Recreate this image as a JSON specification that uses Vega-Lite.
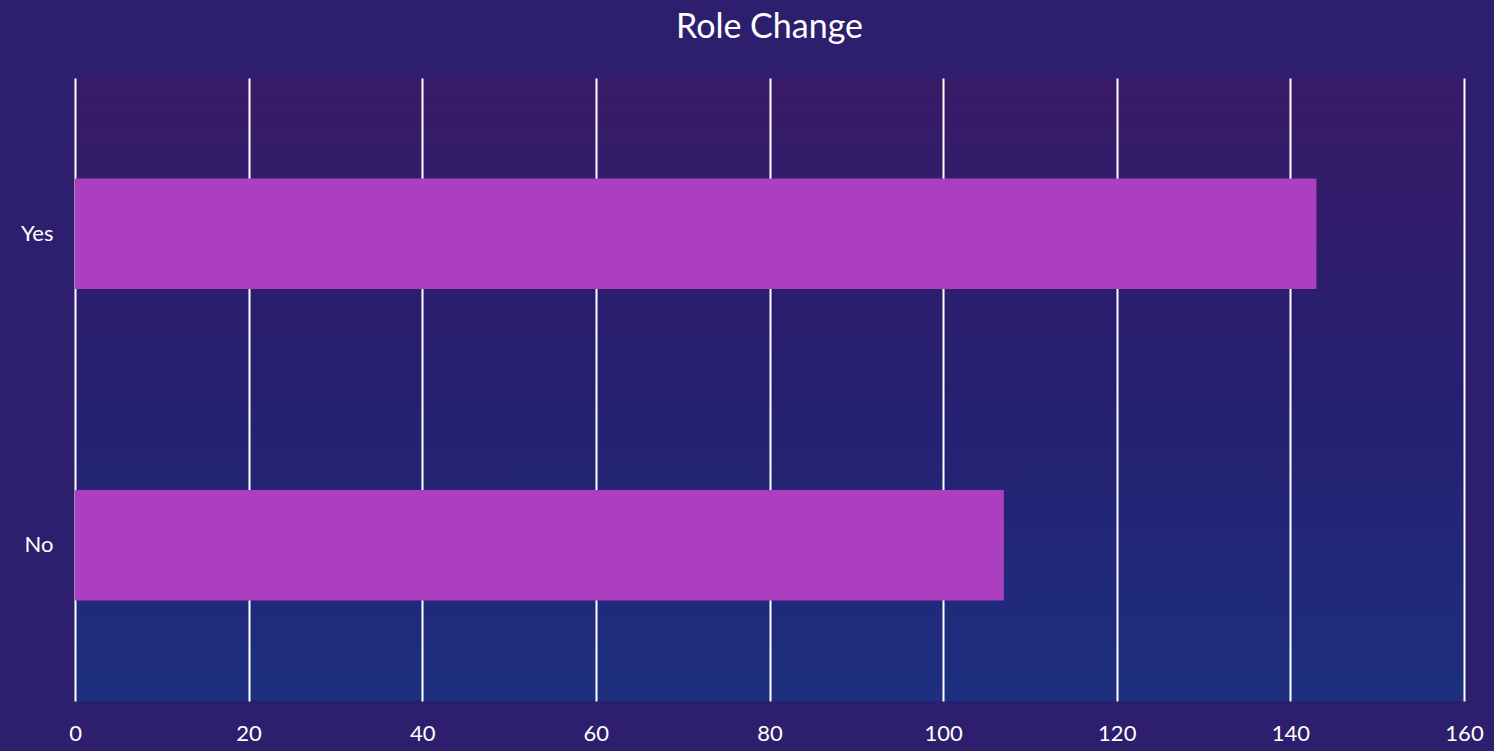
{
  "$schema": "https://vega.github.io/schema/vega-lite/v6.json",
  "autosize": "none",
  "width": 1389,
  "height": 623,
  "padding": {"left": 75, "top": 78, "right": 30, "bottom": 50},
  "background": "#2d1f6d",
  "title": {
    "text": "Role Change",
    "color": "#ffffff",
    "font": "Lato",
    "fontSize": 34,
    "fontWeight": "normal",
    "anchor": "middle",
    "frame": "group",
    "offset": 33
  },
  "config": {
    "view": {
      "stroke": null,
      "fill": {
        "gradient": "linear",
        "x1": 0, "y1": 0, "x2": 0, "y2": 1,
        "stops": [
          {"offset": 0, "color": "#391a67"},
          {"offset": 0.5, "color": "#261f70"},
          {"offset": 1, "color": "#1d2f7f"}
        ]
      }
    }
  },
  "data": {
    "values": [
      {"answer": "Yes", "count": 143},
      {"answer": "No", "count": 107}
    ]
  },
  "mark": {"type": "bar", "color": "#ac3fc0"},
  "encoding": {
    "y": {
      "field": "answer",
      "type": "nominal",
      "sort": ["Yes", "No"],
      "scale": {"paddingInner": 0.646, "paddingOuter": 0.323},
      "axis": {
        "title": null,
        "domain": false,
        "ticks": false,
        "grid": false,
        "labelColor": "#ffffff",
        "labelFont": "Lato",
        "labelFontSize": 22,
        "labelPadding": 22
      }
    },
    "x": {
      "field": "count",
      "type": "quantitative",
      "scale": {"domain": [0, 160], "nice": false},
      "axis": {
        "title": null,
        "values": [0, 20, 40, 60, 80, 100, 120, 140, 160],
        "domain": false,
        "ticks": false,
        "grid": true,
        "gridColor": "#ffffff",
        "gridWidth": 2,
        "gridOpacity": 1,
        "labelFlush": false,
        "labelColor": "#ffffff",
        "labelFont": "Lato",
        "labelFontSize": 22,
        "labelPadding": 22
      }
    }
  }
}
